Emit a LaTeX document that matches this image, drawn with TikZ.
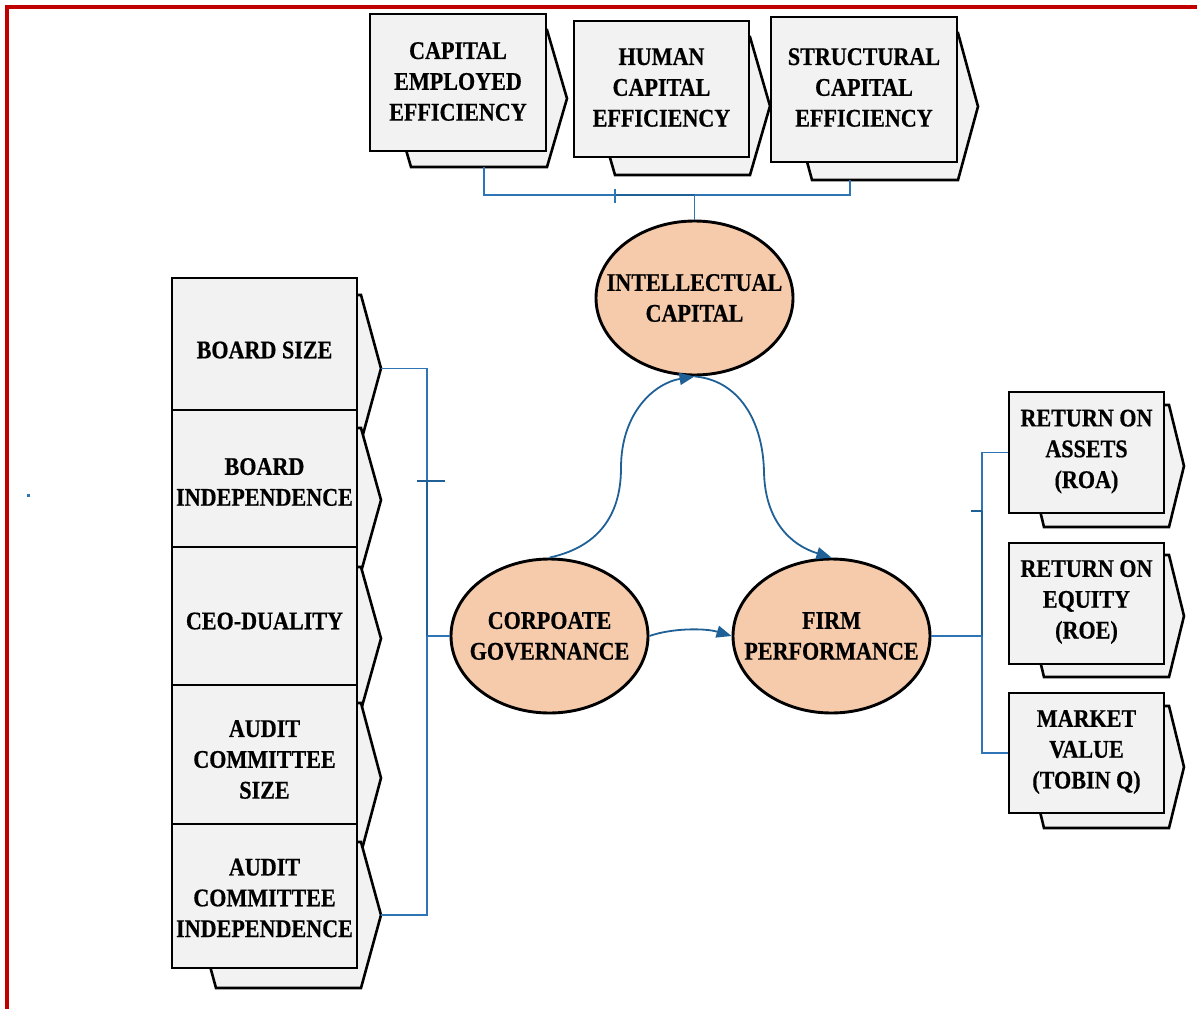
\documentclass[tikz,border=0pt]{standalone}
\usepackage{fontspec}
\setmainfont{Liberation Serif}[FakeStretch=0.87, BoldFeatures={FakeBold=0.5}]
\usetikzlibrary{arrows.meta,shapes.geometric,calc}

\definecolor{boxfill}{RGB}{242,242,242}
\definecolor{peach}{RGB}{245,203,172}
\definecolor{linkblue}{RGB}{46,117,182}
\definecolor{linkdark}{RGB}{31,96,150}
\definecolor{framered}{RGB}{192,0,0}

\tikzset{
  frontbox/.style={draw=black, line width=2.8pt, fill=boxfill, inner sep=0pt},
  backbox/.style={draw=black, line width=2.6pt, fill=boxfill, line join=miter},
  boxtext/.style={font=\fontsize{25.4}{30.8}\selectfont\bfseries, align=center, inner sep=0pt},
  oval/.style={ellipse, draw=black, line width=2.9pt, fill=peach,
    minimum width=197pt, minimum height=154pt, inner sep=0pt},
  conn/.style={draw=linkblue, line width=1.7pt},
  connbold/.style={draw=linkdark, line width=2.7pt},
  flow/.style={draw=linkdark, line width=1.8pt, -{Triangle[length=15pt,width=12pt]}},
}

% Stacked card: a hexagonal card behind a rectangular front card.
% #1 name, #2 left, #3 top, #4 right, #5 bottom (front card),
% #6 top, #7 bottom (back card), #8 text, #9 text centre y
% \bdx = horizontal shift of the back card, \bdd = depth of its points
\newcommand{\stackcard}[9]{%
  \draw[backbox] ({#2+\bdx},{(#6+#7)/2}) -- ({#2+\bdx+\bdd},{#6})
    -- ({#4+\bdx-\bdd},{#6}) -- ({#4+\bdx},{(#6+#7)/2})
    -- ({#4+\bdx-\bdd},{#7}) -- ({#2+\bdx+\bdd},{#7}) -- cycle;
  \coordinate (#1-tip) at ({#4+\bdx},{(#6+#7)/2});
  \node[frontbox, minimum width={#4-#2}, minimum height={#5-#3}]
    (#1) at ({(#2+#4)/2},{(#3+#5)/2}) {};
  \node[boxtext] (#1-text) at ({(#2+#4)/2},{#9}) {#8};
}

\begin{document}
\begin{tikzpicture}[x=1pt,y=-1pt]
\useasboundingbox (0,0) rectangle (1197,1009);

% frame
\draw[framered, line width=4pt, line join=miter] (7,1012) -- (7,7) -- (1200,7);
\fill[linkblue] (27,494) rectangle (30,497);

% intellectual capital components
\def\bdx{21}\def\bdd{20}
\stackcard{ce}{370}{14}{546}{151}{30}{167}{CAPITAL\\EMPLOYED\\EFFICIENCY}{81.5}
\stackcard{hc}{574}{21}{749}{157}{37}{175}{HUMAN\\CAPITAL\\EFFICIENCY}{87.5}
\stackcard{sc}{771}{17}{957}{162}{33}{180}{STRUCTURAL\\CAPITAL\\EFFICIENCY}{87.5}

% governance components
\def\bdx{24}\def\bdd{20}
\stackcard{bsz}{172}{278}{357}{410}{295}{441.7}{BOARD SIZE}{350}
\stackcard{bin}{172}{410}{357}{547}{428}{572}{BOARD\\INDEPENDENCE}{482}
\stackcard{ceo}{172}{547}{357}{685}{567}{710}{CEO-DUALITY}{621}
\stackcard{acs}{172}{685}{357}{824}{703}{853}{AUDIT\\COMMITTEE\\SIZE}{759.5}
\stackcard{aci}{172}{824}{357}{968}{842}{988}{AUDIT\\COMMITTEE\\INDEPENDENCE}{898}

% performance measures
\def\bdx{20}\def\bdd{15}
\stackcard{roa}{1009}{392}{1164}{513}{405}{527}{RETURN ON\\ASSETS\\(ROA)}{451.5}
\stackcard{roe}{1009}{543}{1164}{664}{555}{677}{RETURN ON\\EQUITY\\(ROE)}{602}
\stackcard{mv}{1009}{693}{1164}{813}{706}{828}{MARKET\\VALUE\\(TOBIN Q)}{752}

% constructs
\node[oval] (ic) at (694.5,298) {};
\node[boxtext] (ic-text) at (ic) {INTELLECTUAL\\CAPITAL};
\node[oval] (cg) at (549.5,636) {};
\node[boxtext] (cg-text) at (cg) {CORPOATE\\GOVERNANCE};
\node[oval] (fp) at (831.5,636) {};
\node[boxtext] (fp-text) at (fp) {FIRM\\PERFORMANCE};

% top bracket
\coordinate (ce-foot) at (484,167);
\coordinate (sc-foot) at (850,180);
\coordinate (ttick) at (615,195);
\draw[conn] (ce-foot) |- (sc-foot |- ttick) -- (sc-foot);
\draw[connbold] (ttick) -- (ic.north |- ttick);
\draw[conn] (ic.north |- ttick) -- (ic.north);
\draw[conn, line width=1.9pt] ($(ttick)+(0,-6)$) -- ($(ttick)+(0,8)$);

% left bracket
\coordinate (lbar) at (427,0);
\coordinate (ltick) at (427,481);
\draw[conn] (bsz-tip) -| (lbar |- aci-tip) -- (aci-tip);
\draw[connbold] (ltick) -- (lbar |- cg.west);
\draw[conn] (lbar |- cg.west) -- (cg.west);
\draw[connbold] ($(ltick)+(-10,0)$) -- ($(ltick)+(18,0)$);

% right bracket
\coordinate (rbar) at (982,0);
\coordinate (rtick) at (982,511);
\draw[conn] (roa.west) -| (rbar |- mv.west) -- (mv.west);
\draw[connbold] (rtick) -- (rbar |- fp.east);
\draw[conn] (fp.east) -- (rbar |- fp.east);
\draw[connbold] (rtick) -- ++(-11,0);

% relationships
\draw[flow] (cg.north) .. controls (603,546) and (621,510) .. (621,468)
  .. controls (621,412) and (655,383) .. (ic.south);
\draw[flow] (ic.south) .. controls (738,380) and (763,420) .. (764,472)
  .. controls (765,520) and (790,545) .. (fp.north);
\draw[flow] (cg.east) .. controls (672,628) and (705,628) .. (fp.west);
\end{tikzpicture}
\end{document}
